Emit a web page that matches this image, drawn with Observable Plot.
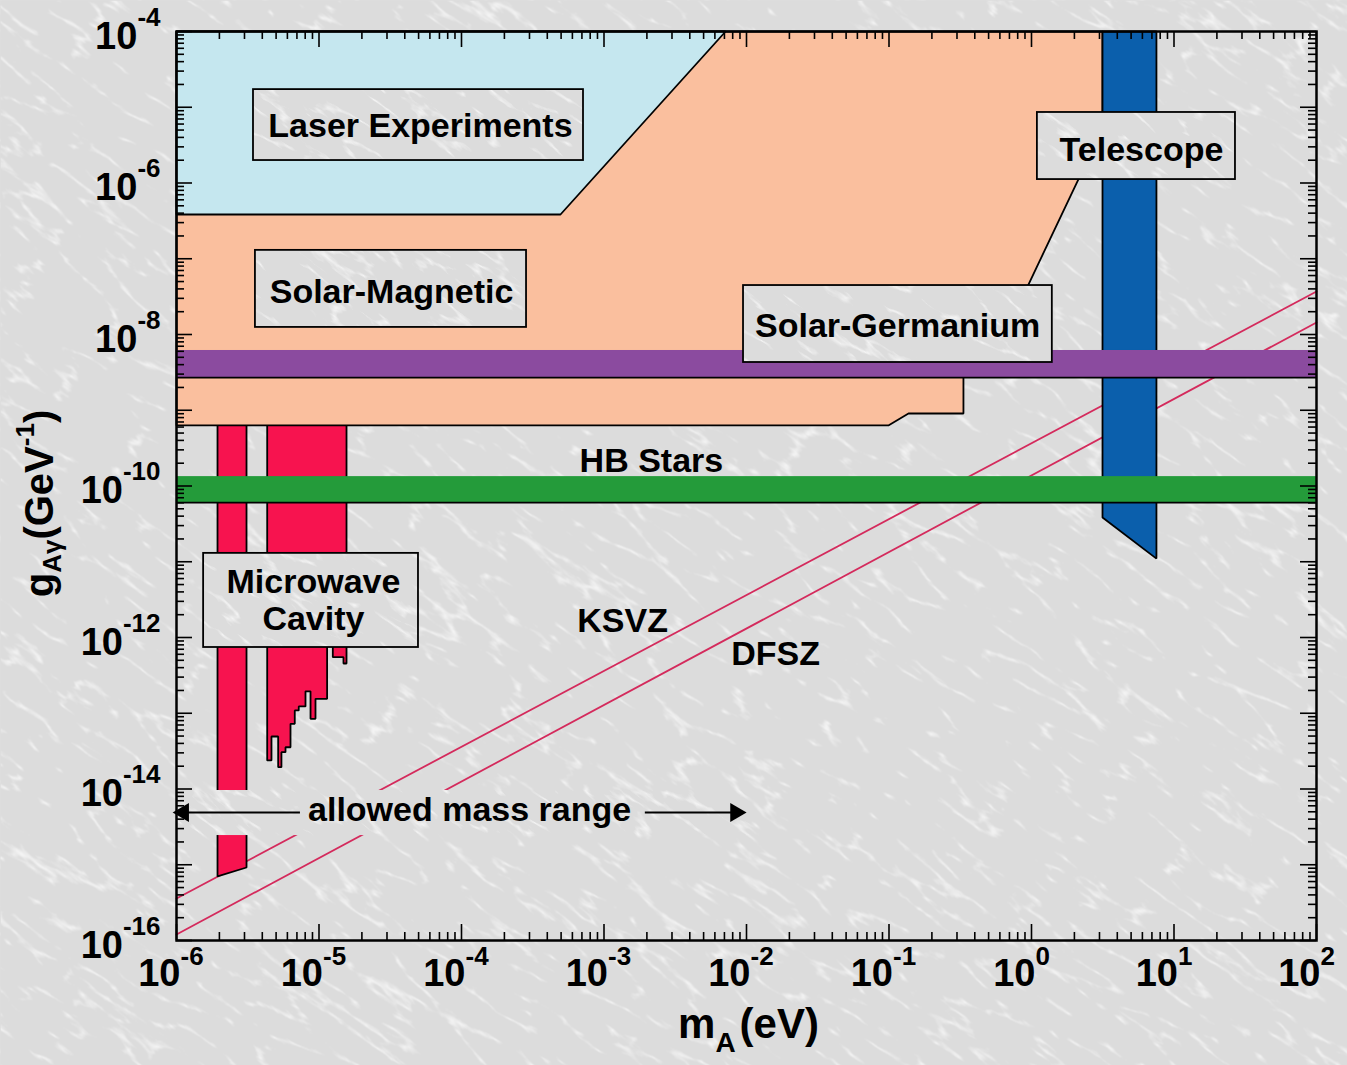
<!DOCTYPE html>
<html>
<head>
<meta charset="utf-8">
<script src="https://cdn.jsdelivr.net/npm/d3@7"></script>
<script src="https://cdn.jsdelivr.net/npm/@observablehq/plot@0.6"></script>
<style>
  html, body { margin: 0; padding: 0; background: #dedede; }
  #chart svg { display: block; }
</style>
</head>
<body>
<svg width="0" height="0" style="position:absolute;left:0;top:0">
  <defs>
    <filter id="marble" filterUnits="userSpaceOnUse" x="-400" y="-600" width="2200" height="2300">
      <feTurbulence type="turbulence" baseFrequency="0.011 0.04" numOctaves="4" seed="11"/>
      <feColorMatrix type="matrix" values="0 0 0 0 1  0 0 0 0 1  0 0 0 0 1  0 0 0 -7 1.2"/>
    </filter>
    <pattern id="tex" patternUnits="userSpaceOnUse" x="0" y="0" width="1347" height="1065">
      <rect width="1347" height="1065" fill="#dcdcdc"/>
      <g transform="rotate(35 673 532)" opacity="0.65">
        <rect x="-400" y="-600" width="2200" height="2300" fill="white" filter="url(#marble)"/>
      </g>
    </pattern>
  </defs>
</svg>
<div id="chart"></div>
<script>
// ---------------- data ----------------
const massDomain = [1e-6, 1e2];          // m_A (eV)
const couplingDomain = [1e-16, 1e-4];    // g_Aγ (GeV^-1)
const xTickExponents = [-6, -5, -4, -3, -2, -1, 0, 1, 2];
const yTickExponents = [-4, -6, -8, -10, -12, -14, -16];

// Laser experiments excluded region
const laserMass     = [1e-6, 7.13e-3, 4.95e-4, 1e-6];
const laserCoupling = [1e-4, 1e-4, 3.84e-7, 3.84e-7];

// Solar-Magnetic excluded region
const solarMagMass     = [1e-6, 3.15, 3.15, 0.532, 0.333, 0.333, 0.137, 0.099, 1e-6];
const solarMagCoupling = [1e-4, 1e-4, 5.24e-6, 4.54e-9, 4.54e-9, 9.06e-10, 9.06e-10, 6.30e-10, 6.30e-10];

// Telescope excluded region
const telescopeMass     = [3.15, 7.53, 7.53, 3.15];
const telescopeCoupling = [1e-4, 1e-4, 1.10e-11, 3.84e-11];

// Horizontal bands (lower, upper coupling)
const solarGeBand = [2.70e-9, 6.15e-9];
const hbStarsBand = [6.05e-11, 1.33e-10];

// Microwave cavity (two experiments)
const cavity1Mass     = [1.94e-6, 3.10e-6, 3.10e-6, 1.94e-6];
const cavity1Coupling = [7.33e-10, 7.33e-10, 9.2e-16, 7.0e-16];
const cavity2Edges  = [4.33e-6, 4.64e-6, 5.17e-6, 5.45e-6, 5.82e-6, 6.31e-6, 6.76e-6, 7.21e-6, 8.04e-6, 8.72e-6, 9.45e-6, 1.14e-5, 1.25e-5, 1.485e-5, 1.56e-5];
const cavity2Limits = [2.38e-14, 4.93e-14, 1.94e-14, 3.06e-14, 3.56e-14, 7.26e-14, 1.09e-13, 1.23e-13, 1.95e-13, 8.45e-14, 1.55e-13, 9.12e-13, 5.50e-13, 4.54e-13];
const cavity2Top = 7.33e-10;

// Model lines
const ksvzMass = [1e-6, 1e2];
const ksvzCoupling = [3.58e-16, 3.70e-8];
const dfszMass = [1e-6, 1e2];
const dfszCoupling = [1.20e-16, 1.44e-8];

// Label boxes
const boxNames = ["Laser Experiments", "Solar-Magnetic", "Solar-Germanium", "Telescope", "Microwave\nCavity"];
const boxX1 = [3.47e-6, 3.58e-6, 9.53e-3, 1.10, 1.55e-6];
const boxX2 = [7.18e-4, 2.86e-4, 1.40, 27.0, 4.99e-5];
const boxY1 = [1.98e-6, 1.24e-8, 4.27e-9, 1.11e-6, 7.38e-13];
const boxY2 = [1.71e-5, 1.29e-7, 4.43e-8, 8.53e-6, 1.29e-11];
const boxTextX = [5.15e-5, 3.23e-5, 0.115, 5.91, 9.14e-6];
const boxTextY = [5.74e-6, 3.70e-8, 1.31e-8, 2.77e-6, 3.18e-12];

// Free labels
const freeLabels = ["HB Stars", "KSVZ", "DFSZ", "allowed mass range"];
const freeLabelX = [2.15e-3, 1.35e-3, 1.60e-2, 1.14e-4];
const freeLabelY = [2.10e-10, 1.63e-12, 5.97e-13, 5.20e-15];

// "allowed mass range" arrows
const rangeArrowY = 4.9e-15;
const rangeArrowFrom = [7.41e-6, 1.95e-3];
const rangeArrowTo   = [1.12e-6, 8.4e-3];
const rangeBandX = [1e-6, 1.06e-2];
const rangeBandY = [2.43e-15, 9.55e-15];

// ---------------- styling ----------------
const W = 1347, H = 1065;
const mL = 176, mR = 31, mT = 31, mB = 125;
const plotW = W - mL - mR, plotH = H - mT - mB;
const TEX = "url(#tex)";
const LASER = "#c5e7ef", PEACH = "#fabf9e", PURPLE = "#8b4b9f", GREEN = "#249b3a";
const TELE = "#0b5fac", CAVITY = "#f7134f", MODEL = "#d42a5c";
const FONT = '"Liberation Sans", Arial, Helvetica, sans-serif';

const ctx = document.createElement("canvas").getContext("2d");
function tw(t, size) { ctx.font = `bold ${size}px ${FONT}`; return ctx.measureText(t).width; }

const poly = (xs, ys) => xs.map((x, i) => ({x, y: ys[i]}));
function stepPolygon(edges, limits, top) {
  const pts = [{x: edges[0], y: top}, {x: edges[edges.length - 1], y: top}];
  for (let i = limits.length - 1; i >= 0; i--) {
    pts.push({x: edges[i + 1], y: limits[i]});
    pts.push({x: edges[i], y: limits[i]});
  }
  return pts;
}
const region = (pts, fill) => Plot.line(pts, {x: "x", y: "y", curve: "linear-closed", fill, stroke: "black", strokeWidth: 1.8, strokeLinejoin: "miter"});

// axis ticks: decades are major, 2..9 multiples are minor
const decades = (lo, hi) => d3.range(lo, hi + 1).map(e => 10 ** e);
const minors = (lo, hi) => d3.range(lo, hi).flatMap(e => d3.range(2, 10).map(k => k * 10 ** e));
const xMajor = decades(-6, 2), xMinor = minors(-6, 2);
const yMajor = decades(-16, -4), yMinor = minors(-16, -4);
const MAJ = 16, MIN = 8;

const marks = [];
// textured background
marks.push(Plot.frame({fill: TEX, stroke: "none", insetTop: -mT, insetBottom: -mB, insetLeft: -mL, insetRight: -mR}));
// model lines
marks.push(Plot.line(poly(ksvzMass, ksvzCoupling), {x: "x", y: "y", stroke: MODEL, strokeWidth: 1.8}));
marks.push(Plot.line(poly(dfszMass, dfszCoupling), {x: "x", y: "y", stroke: MODEL, strokeWidth: 1.8}));
// cavities
marks.push(region(poly(cavity1Mass, cavity1Coupling), CAVITY));
marks.push(region(stepPolygon(cavity2Edges, cavity2Limits, cavity2Top), CAVITY));
// solar magnetic, laser, telescope
marks.push(region(poly(solarMagMass, solarMagCoupling), PEACH));
marks.push(region(poly(laserMass, laserCoupling), LASER));
marks.push(region(poly(telescopeMass, telescopeCoupling), TELE));
// bands
marks.push(Plot.rect([solarGeBand], {x1: massDomain[0], x2: massDomain[1], y1: d => d[0], y2: d => d[1], fill: PURPLE}));
marks.push(Plot.ruleY([solarGeBand[0]], {stroke: "black", strokeWidth: 1.8}));
marks.push(Plot.rect([hbStarsBand], {x1: massDomain[0], x2: massDomain[1], y1: d => d[0], y2: d => d[1], fill: GREEN}));
marks.push(Plot.ruleY([hbStarsBand[0]], {stroke: "black", strokeWidth: 1.8}));
// background strip behind "allowed mass range"
marks.push(Plot.rect([0], {x1: rangeBandX[0], x2: rangeBandX[1], y1: rangeBandY[0], y2: rangeBandY[1], fill: TEX}));
// label boxes
marks.push(Plot.rect(boxNames, {x1: (d, i) => boxX1[i], x2: (d, i) => boxX2[i], y1: (d, i) => boxY1[i], y2: (d, i) => boxY2[i], fill: TEX, stroke: "black", strokeWidth: 1.8}));
marks.push(Plot.text(boxNames, {x: (d, i) => boxTextX[i], y: (d, i) => boxTextY[i], text: d => d, fontSize: 34, fontWeight: "bold", fontFamily: FONT, fill: "black", lineHeight: 1.08}));
marks.push(Plot.text(freeLabels, {x: (d, i) => freeLabelX[i], y: (d, i) => freeLabelY[i], text: d => d, fontSize: 34, fontWeight: "bold", fontFamily: FONT, fill: "black"}));
// arrows
marks.push(Plot.ruleY([0, 1], {y: () => rangeArrowY, x1: i => rangeArrowFrom[i], x2: i => rangeArrowTo[i], stroke: "black", strokeWidth: 2}));
marks.push(Plot.dot([0, 1], {x: i => rangeArrowTo[i], y: () => rangeArrowY, symbol: "triangle", r: 7, fill: "black", stroke: "none", rotate: i => (i === 0 ? -90 : 90)}));
// frame and ticks
marks.push(Plot.frame({stroke: "black", strokeWidth: 2.5}));
for (const [vals, len] of [[xMajor, MAJ], [xMinor, MIN]]) {
  marks.push(Plot.ruleX(vals, {insetTop: plotH - len, stroke: "black", strokeWidth: 1.6}));
  marks.push(Plot.ruleX(vals, {insetBottom: plotH - len, stroke: "black", strokeWidth: 1.6}));
}
for (const [vals, len] of [[yMajor, MAJ], [yMinor, MIN]]) {
  marks.push(Plot.ruleY(vals, {insetRight: plotW - len, stroke: "black", strokeWidth: 1.6}));
  marks.push(Plot.ruleY(vals, {insetLeft: plotW - len, stroke: "black", strokeWidth: 1.6}));
}
// x tick labels
marks.push(Plot.text(xTickExponents, {x: e => 10 ** e, frameAnchor: "bottom", text: () => "10", textAnchor: "end", dx: 4, dy: 45, fontSize: 38, fontWeight: "bold", fontFamily: FONT, fill: "black"}));
marks.push(Plot.text(xTickExponents, {x: e => 10 ** e, frameAnchor: "bottom", text: e => String(e), textAnchor: "start", dx: 4, dy: 24, fontSize: 26, fontWeight: "bold", fontFamily: FONT, fill: "black"}));
// y tick labels
for (const e of yTickExponents) {
  const ew = tw(String(e), 26);
  marks.push(Plot.text([e], {y: d => 10 ** d, frameAnchor: "left", text: d => String(d), textAnchor: "end", dx: -16, dy: -14, fontSize: 26, fontWeight: "bold", fontFamily: FONT, fill: "black"}));
  marks.push(Plot.text([e], {y: d => 10 ** d, frameAnchor: "left", text: () => "10", textAnchor: "end", dx: -16 - ew, dy: 5, fontSize: 38, fontWeight: "bold", fontFamily: FONT, fill: "black"}));
}
// x axis title: m_A (eV)
{
  const parts = [["m", 42, 0, 0], ["A", 28, 14, 0], ["(eV)", 42, 0, 4]];
  const total = parts.reduce((s, p) => s + tw(p[0], p[1]) + p[3], 0);
  let x0 = -total / 2;
  for (const [t, s, sh, gap] of parts) {
    x0 += gap;
    marks.push(Plot.text([t], {frameAnchor: "bottom", text: d => d, textAnchor: "start", dx: x0 + 2, dy: 97 + sh, fontSize: s, fontWeight: "bold", fontFamily: FONT, fill: "black"}));
    x0 += tw(t, s);
  }
}
// y axis title: g_Aγ (GeV^-1), rotated
{
  const parts = [["g", 40, 0], ["Aγ", 26, 12], ["(GeV", 40, 0], ["-1", 26, -15], [")", 40, 0]];
  const total = parts.reduce((s, p) => s + tw(p[0], p[1]), 0);
  const midFrame = (mT + (H - mB)) / 2;
  let yStart = 503 + total / 2;
  for (const [t, s, sh] of parts) {
    marks.push(Plot.text([t], {frameAnchor: "left", text: d => d, rotate: -90, textAnchor: "start", dx: 40 - mL + sh, dy: yStart - midFrame, fontSize: s, fontWeight: "bold", fontFamily: FONT, fill: "black"}));
    yStart -= tw(t, s);
  }
}

const chart = Plot.plot({
  width: W, height: H,
  marginLeft: mL, marginRight: mR, marginTop: mT, marginBottom: mB,
  x: {type: "log", domain: massDomain, axis: null},
  y: {type: "log", domain: couplingDomain, axis: null},
  style: {background: "#dedede", fontFamily: FONT, overflow: "visible"},
  marks
});
document.getElementById("chart").appendChild(chart);
</script>
</body>
</html>
